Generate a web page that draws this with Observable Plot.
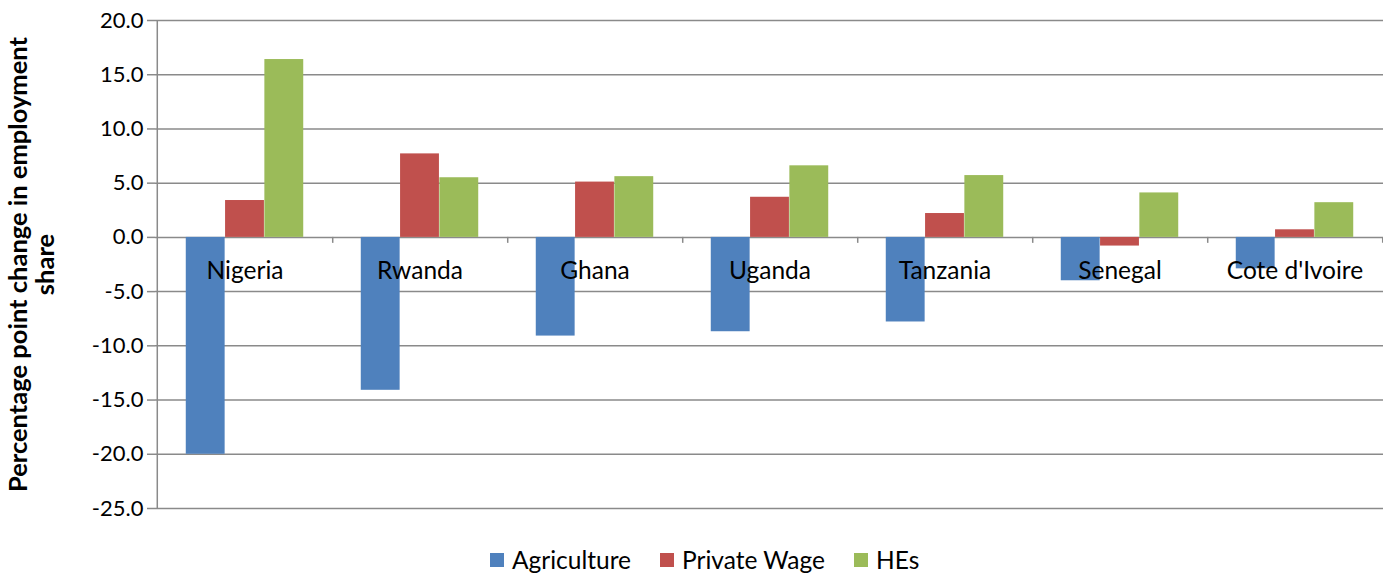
<!DOCTYPE html>
<html>
<head>
<meta charset="utf-8">
<script src="https://cdn.jsdelivr.net/npm/d3@7"></script>
<script src="https://cdn.jsdelivr.net/npm/@observablehq/plot@0.6"></script>
<style>
  html, body { margin: 0; padding: 0; background: #fff; overflow: hidden; }
  #wrap { position: relative; width: 1383px; height: 575px; font-family: Lato, "Open Sans", sans-serif; }
  #legend { position: absolute; left: 490px; top: 545px; display: flex; align-items: center; font-size: 24.5px; color: #000; line-height: 30px; }
  .item { display: flex; align-items: center; margin-right: 29px; }
  .sw { width: 14px; height: 14px; margin-right: 8px; }
</style>
</head>
<body>
<div id="wrap"><div id="chart"></div><div id="legend"></div></div>
<script>
const countries = ["Nigeria", "Rwanda", "Ghana", "Uganda", "Tanzania", "Senegal", "Cote d'Ivoire"];
const agriculture = [-20.0, -14.1, -9.1, -8.7, -7.8, -4.0, -2.9];
const privateWage = [3.4, 7.7, 5.1, 3.7, 2.2, -0.8, 0.7];
const hes = [16.4, 5.5, 5.6, 6.6, 5.7, 4.1, 3.2];
const seriesNames = ["Agriculture", "Private Wage", "HEs"];
const seriesColors = ["#4F81BD", "#C0504D", "#9BBB59"];
const yTicks = [-25, -20, -15, -10, -5, 0, 5, 10, 15, 20];
const yTitle = "Percentage point change in employment\nshare";

const W = 1383, H = 530, ML = 155, MR = 0, MT = 20, MB = 22;
const band = (W - ML - MR) / countries.length;
const barW = band * 0.224;
const inset = (band - barW) / 2;
const grid = "#8a8a8a";

const values = [agriculture, privateWage, hes];
const seriesMarks = values.map((vals, s) =>
  Plot.barY(countries.map((c, i) => ({country: c, value: vals[i]})), {
    x: "country", y: "value", fill: seriesColors[s],
    insetLeft: inset, insetRight: inset, dx: (s - 1) * barW
  })
);

const chart = Plot.plot({
  width: W, height: H,
  marginLeft: ML, marginRight: MR, marginTop: MT, marginBottom: MB,
  style: {fontFamily: "Lato, 'Open Sans', sans-serif", background: "#fff", color: "#000", overflow: "visible"},
  x: {domain: countries, padding: 0, axis: null},
  y: {domain: [-25, 20], axis: null},
  marks: [
    Plot.ruleY(yTicks, {stroke: grid, strokeWidth: 1.5}),
    ...seriesMarks,
    Plot.ruleX(countries, {x: d => d, dx: band / 2, y1: 0, y2: -0.55, stroke: grid, strokeWidth: 1.5}),
    Plot.ruleX([countries[0]], {x: d => d, dx: -band / 2, y1: -25, y2: 20, stroke: grid, strokeWidth: 1.5}),
    Plot.axisY({ticks: yTicks, tickFormat: d => d.toFixed(1), tickSize: 8, tickPadding: 4,
      fontSize: 22, stroke: grid, strokeWidth: 1.5, fill: "#000", label: null}),
    Plot.text(countries, {x: d => d, y: () => 0, text: d => d, dy: 34, fontSize: 24.5, fill: "#000"}),
    Plot.text([yTitle], {text: d => d, frameAnchor: "left", textAnchor: "middle", rotate: -90, dx: -124,
      fontSize: 25.5, fontWeight: "bold", lineHeight: 1.06, fill: "#000"})
  ]
});
document.getElementById("chart").appendChild(chart);

const legend = document.getElementById("legend");
seriesNames.forEach((n, i) => {
  const it = document.createElement("div");
  it.className = "item";
  it.innerHTML = `<div class="sw" style="background:${seriesColors[i]}"></div><span>${n}</span>`;
  legend.appendChild(it);
});
</script>
</body>
</html>
